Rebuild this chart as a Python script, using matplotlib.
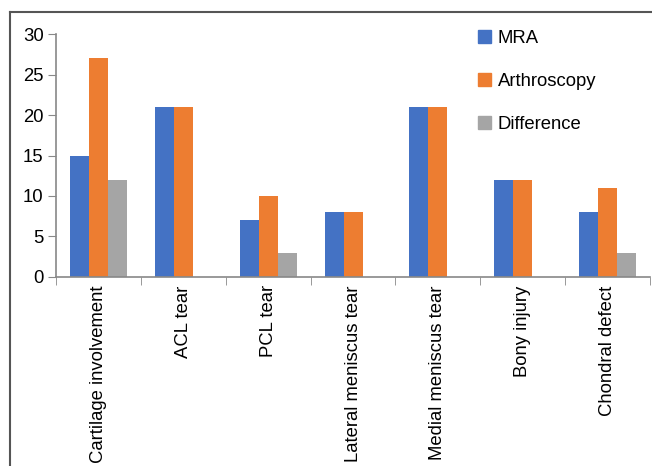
import matplotlib
matplotlib.use("Agg")
import matplotlib.pyplot as plt
from matplotlib.patches import Rectangle
from matplotlib.lines import Line2D
import numpy as np

categories = ["Cartilage involvement", "ACL tear", "PCL tear", "Lateral meniscus tear",
              "Medial meniscus tear", "Bony injury", "Chondral defect"]
mra = [15, 21, 7, 8, 21, 12, 8]
arthroscopy = [27, 21, 10, 8, 21, 12, 11]
difference = [12, 0, 3, 0, 0, 0, 3]
series_names = ["MRA", "Arthroscopy", "Difference"]
colors = ["#4472C4", "#ED7D31", "#A5A5A5"]

plt.rcParams["font.family"] = ["Liberation Sans", "DejaVu Sans"]
FS = 13.3

fig = plt.figure(figsize=(6.52, 4.66), dpi=100)
ax = fig.add_axes([0.086, 0.4056, 0.911, 0.5214])

x = np.arange(len(categories))
w = 0.224
for i, (vals, c, name) in enumerate(zip([mra, arthroscopy, difference], colors, series_names)):
    ax.bar(x + (i - 1) * w, vals, width=w, color=c, label=name, linewidth=0)

ax.set_xlim(-0.5, len(categories) - 0.5)
ax.set_ylim(0, 30)
ax.set_yticks(range(0, 31, 5))
ax.tick_params(axis="y", labelsize=FS, length=6, color="#888888", pad=3)

ax.set_xticks(x)
ax.set_xticklabels(categories, rotation=90, fontsize=FS)
ax.tick_params(axis="x", length=0, pad=6)
ax.set_xticks(np.arange(-0.5, len(categories)), minor=True)
ax.tick_params(axis="x", which="minor", length=6, color="#888888")

for s in ["top", "right"]:
    ax.spines[s].set_visible(False)
for s in ["left", "bottom"]:
    ax.spines[s].set_color("#888888")
    ax.spines[s].set_linewidth(1.2)

handles = [Rectangle((0, 0), 1, 1, color=c) for c in colors]
fig.legend(handles, series_names, loc="upper left", bbox_to_anchor=(0.708, 0.972),
           frameon=False, fontsize=FS, handlelength=0.7, handleheight=0.7,
           handletextpad=0.35, labelspacing=1.42)

# outer frame
fig.add_artist(Line2D([10 / 652, 10 / 652], [0, 1 - 12 / 466], transform=fig.transFigure,
                      color="#555555", linewidth=1.5))
fig.add_artist(Line2D([10 / 652, 1], [1 - 12 / 466, 1 - 12 / 466], transform=fig.transFigure,
                      color="#555555", linewidth=1.5))

fig.savefig("out.png", dpi=100)
